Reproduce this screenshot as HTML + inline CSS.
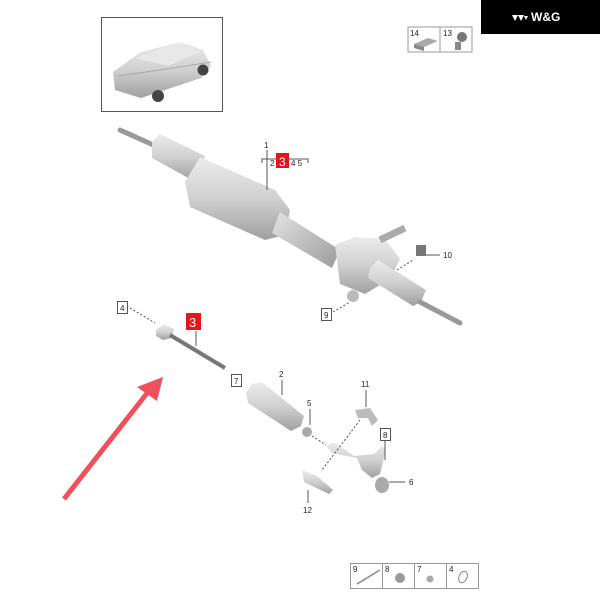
<!DOCTYPE html>
<html><head><meta charset="utf-8"><style>
html,body{margin:0;padding:0;background:#fff;}
svg{display:block}
text{font-family:"Liberation Sans",sans-serif;fill:#222;}
</style></head><body>
<svg width="600" height="600" viewBox="0 0 600 600" xmlns="http://www.w3.org/2000/svg">
<defs>
<linearGradient id="g1" x1="0" y1="0" x2="0" y2="1"><stop offset="0" stop-color="#ececec"/><stop offset="0.5" stop-color="#d0d0d0"/><stop offset="1" stop-color="#a0a0a0"/></linearGradient>
<linearGradient id="g2" x1="0" y1="0" x2="1" y2="1"><stop offset="0" stop-color="#e4e4e4"/><stop offset="1" stop-color="#9a9a9a"/></linearGradient>
</defs>
<rect x="481" y="0" width="119" height="34" fill="#000"/>
<text x="531" y="21" font-size="12" font-weight="bold" style="fill:#fff">W&amp;G</text>
<path d="M512 15 l3 6 l3 -6 z M518 15 l3 6 l3 -6 z M524 16 l2 4 l2 -4z" fill="#fff"/>
<rect x="408" y="27" width="32" height="25" fill="#fff" stroke="#999"/>
<rect x="440" y="27" width="32" height="25" fill="#fff" stroke="#999"/>
<text x="410" y="36" font-size="8">14</text><text x="443" y="36" font-size="8">13</text>
<path d="M414 44 l14 -6 l10 3 l-14 6z" fill="#aaa"/><path d="M414 44 l10 3 v4 l-10 -3z" fill="#888"/>
<circle cx="462" cy="37" r="5" fill="#777"/><rect x="455" y="42" width="6" height="8" fill="#888"/>
<!-- car -->
<rect x="101.5" y="17.5" width="121" height="94" fill="#fff" stroke="#555"/>
<path d="M113 72 l28 -20 l40 -10 l22 8 l8 16 l-10 12 l-60 20 l-26 -8z" fill="url(#g1)"/>
<path d="M135 58 l40 -14 l25 8 l-32 14z" fill="#e8e8e8"/>
<path d="M118 76 l55 -8 l38 -6" stroke="#aaa" fill="none"/>
<circle cx="158" cy="96" r="6" fill="#444"/><circle cx="203" cy="70" r="5.5" fill="#444"/>
<!-- main rack -->
<line x1="120" y1="130" x2="160" y2="148" stroke="#999" stroke-width="5" stroke-linecap="round"/>
<path d="M152 142 l8 -8 l45 22 l-8 20 l-5 4 l-40 -22z" fill="url(#g1)"/>
<path d="M200 157 l75 33 l15 20 l-5 25 l-20 5 l-75 -33 l-5 -25z" fill="url(#g1)"/>
<path d="M280 212 l60 38 l-8 18 l-60 -35z" fill="url(#g2)"/>
<path d="M335 245 l20 -8 l30 2 l15 20 l-10 20 l-25 15 l-25 -10z" fill="url(#g1)"/>
<path d="M380 240 l25 -12" stroke="#aaa" stroke-width="7"/>
<path d="M370 268 l8 -8 l48 30 l-5 12 l-8 4 l-45 -28z" fill="url(#g1)"/>
<line x1="420" y1="302" x2="460" y2="323" stroke="#999" stroke-width="5" stroke-linecap="round"/>
<circle cx="353" cy="296" r="6" fill="#bbb"/>
<line x1="267" y1="150" x2="267" y2="190" stroke="#555"/>
<text x="264" y="148" font-size="8">1</text>
<path d="M262 163 v-4 h46 v4" fill="none" stroke="#555"/>
<text x="270" y="166" font-size="8">2</text>
<rect x="276" y="153" width="13" height="15" fill="#e8141c"/>
<text x="279" y="166" font-size="12" style="fill:#fff">3</text>
<text x="291" y="166" font-size="8">4 5</text>
<rect x="416" y="245" width="10" height="11" fill="#777"/>
<line x1="426" y1="255" x2="440" y2="255" stroke="#555"/><text x="443" y="258" font-size="8">10</text>
<line x1="397" y1="270" x2="413" y2="260" stroke="#555" stroke-dasharray="2,2"/>
<rect x="321.5" y="308.5" width="10" height="12" fill="#fff" stroke="#555"/><text x="324" y="318" font-size="8">9</text>
<line x1="333" y1="312" x2="350" y2="302" stroke="#555" stroke-dasharray="2,2"/>
<!-- tie rod -->
<rect x="117.5" y="301.5" width="10" height="12" fill="#fff" stroke="#555"/><text x="120" y="311" font-size="8">4</text>
<line x1="130" y1="308" x2="155" y2="323" stroke="#555" stroke-dasharray="2,2"/>
<path d="M156 330 l8 -6 l10 5 l-2 9 l-9 2 l-7 -4z" fill="url(#g1)"/>
<line x1="170" y1="335" x2="225" y2="368" stroke="#777" stroke-width="4"/>
<rect x="186" y="313" width="15" height="17" fill="#e8141c"/>
<text x="189" y="327" font-size="13" style="fill:#fff">3</text>
<line x1="196" y1="331" x2="196" y2="346" stroke="#555"/>
<rect x="231.5" y="374.5" width="10" height="12" fill="#fff" stroke="#555"/><text x="234" y="384" font-size="8">7</text>
<path d="M246 392 l6 -8 l10 -2 l42 34 l-3 10 l-10 5 l-43 -28z" fill="url(#g1)"/>
<text x="279" y="377" font-size="8">2</text><line x1="282" y1="380" x2="282" y2="395" stroke="#555"/>
<text x="307" y="406" font-size="8">5</text><line x1="310" y1="409" x2="310" y2="425" stroke="#555"/>
<circle cx="307" cy="432" r="5" fill="#aaa"/>
<line x1="312" y1="436" x2="326" y2="445" stroke="#555" stroke-dasharray="2,2"/>
<path d="M326 446 l8 -4 l20 14 l20 -2 l8 -8 l4 3 l-6 25 l-8 4 l-10 -8 l-5 -12 l-25 -5z" fill="url(#g1)"/>
<ellipse cx="382" cy="485" rx="7" ry="8" fill="#aaa"/>
<line x1="389" y1="482" x2="405" y2="482" stroke="#555"/><text x="409" y="485" font-size="8">6</text>
<rect x="380.5" y="428.5" width="10" height="12" fill="#fff" stroke="#555"/><text x="383" y="438" font-size="8">8</text>
<line x1="385" y1="441" x2="385" y2="460" stroke="#555"/>
<text x="361" y="387" font-size="8">11</text><line x1="366" y1="390" x2="366" y2="407" stroke="#555"/>
<path d="M355 410 l15 -2 l8 12 l-6 6 l-4 -8 l-10 0z" fill="#bbb"/>
<line x1="360" y1="420" x2="322" y2="470" stroke="#555" stroke-dasharray="2,2"/>
<path d="M302 470 l15 6 l16 14 l-4 4 l-25 -12z" fill="url(#g1)"/>
<line x1="308" y1="490" x2="308" y2="503" stroke="#555"/><text x="303" y="513" font-size="8">12</text>
<line x1="64" y1="499" x2="148" y2="392" stroke="#f0505a" stroke-width="5"/>
<path d="M163 377 l-26 10 l20 14z" fill="#f0505a"/>
<g stroke="#999" fill="#fff"><rect x="350.5" y="563.5" width="32" height="25"/><rect x="382.5" y="563.5" width="32" height="25"/><rect x="414.5" y="563.5" width="32" height="25"/><rect x="446.5" y="563.5" width="32" height="25"/></g>
<text x="353" y="572" font-size="8">9</text><text x="385" y="572" font-size="8">8</text><text x="417" y="572" font-size="8">7</text><text x="449" y="572" font-size="8">4</text>
<line x1="357" y1="584" x2="380" y2="570" stroke="#888" stroke-width="1.5"/>
<circle cx="400" cy="578" r="5" fill="#999"/><circle cx="430" cy="579" r="3.5" fill="#aaa"/>
<ellipse cx="463" cy="577" rx="4" ry="6" fill="none" stroke="#888" transform="rotate(25 463 577)"/>
</svg>
</body></html>
